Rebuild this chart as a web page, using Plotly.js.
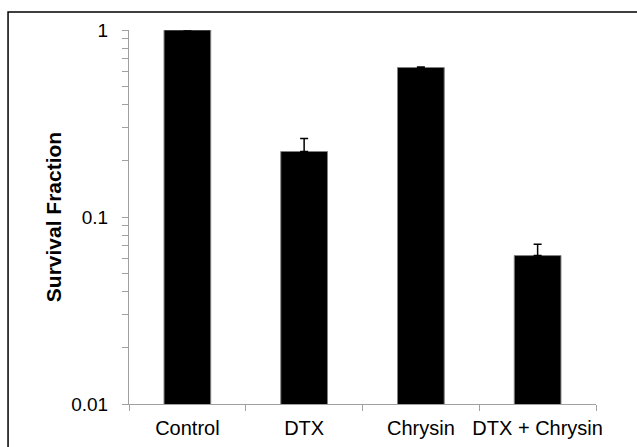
<!DOCTYPE html>
<html>
<head>
<meta charset="utf-8">
<script src="https://cdn.plot.ly/plotly-3.0.1.min.js"></script>
<style>html,body{margin:0;padding:0;background:#fff;}#chart{width:637px;height:447px;}</style>
</head>
<body>
<div id="chart"></div>
<script>
var categories = ["Control", "DTX", "Chrysin", "DTX + Chrysin"];
var survival = [1.0, 0.224, 0.63, 0.0622];
var errorPlus = [0.0, 0.039, 0.004, 0.0094];
var yTickVals = [0.01, 0.1, 1];
var yTickText = ["0.01", "0.1", "1"];
var yMinorVals = [];
[0.01, 0.1].forEach(function (d) { for (var k = 2; k <= 9; k++) yMinorVals.push(d * k); });

var allVals = yTickVals.concat(yMinorVals).sort(function (a, b) { return a - b; });
var allText = allVals.map(function (v) {
  var i = yTickVals.indexOf(v);
  return i >= 0 ? yTickText[i] : "";
});

var data = [{
  type: "bar",
  x: categories,
  y: survival,
  width: 0.4,
  marker: { color: "#000000", line: { color: "#808080", width: 1 } },
  error_y: { type: "data", symmetric: false, array: errorPlus, arrayminus: [0, 0, 0, 0],
             color: "#000000", thickness: 1.5, width: 4 },
  hoverinfo: "none"
}];

var layout = {
  width: 637, height: 447,
  margin: { l: 129, r: 41, t: 30, b: 43 },
  paper_bgcolor: "#ffffff", plot_bgcolor: "#ffffff",
  showlegend: false,
  font: { family: "Liberation Sans, Arial, sans-serif", color: "#000000" },
  xaxis: {
    type: "category",
    tickson: "boundaries",
    tickangle: 0,
    ticks: "outside", ticklen: 6, tickcolor: "#a0a0a0", tickwidth: 1,
    showline: true, linecolor: "#a0a0a0", linewidth: 1,
    showgrid: false, zeroline: false,
    tickfont: { size: 20, color: "#000000" },
    ticklabelstandoff: 6,
    automargin: false,
    fixedrange: true
  },
  yaxis: {
    type: "log",
    range: [-2, 0],
    tickmode: "array", tickvals: allVals, ticktext: allText,
    ticks: "outside", ticklen: 6, tickcolor: "#a0a0a0", tickwidth: 1,
    showline: true, linecolor: "#a0a0a0", linewidth: 1,
    showgrid: false, zeroline: false,
    tickfont: { size: 19, color: "#000000" },
    ticklabelstandoff: 10,
    title: { text: "<b>Survival Fraction</b>", font: { size: 21, color: "#000000" }, standoff: 3 },
    automargin: false,
    fixedrange: true
  },
  shapes: [{
    type: "rect", xref: "paper", yref: "paper",
    x0: -0.259, x1: 1.2, y0: -0.2, y1: 1.048,
    line: { color: "#000000", width: 1.5 }, fillcolor: "rgba(0,0,0,0)", layer: "below"
  }]
};

Plotly.newPlot("chart", data, layout, { staticPlot: true, displayModeBar: false });
</script>
</body>
</html>
